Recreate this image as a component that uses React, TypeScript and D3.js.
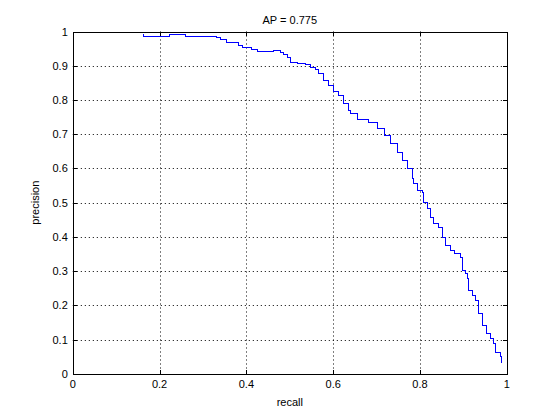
import React, { useEffect, useRef } from "react";
import * as d3 from "d3";

const recall = [
  0.162, 0.162, 0.222, 0.259, 0.331, 0.339, 0.352, 0.38, 0.389, 0.41, 0.424,
  0.462, 0.477, 0.484, 0.494, 0.5, 0.516, 0.535, 0.547, 0.558, 0.565, 0.576,
  0.588, 0.599, 0.611, 0.623, 0.633, 0.639, 0.654, 0.68, 0.7, 0.716, 0.731,
  0.746, 0.758, 0.769, 0.781, 0.784, 0.792, 0.804, 0.808, 0.815, 0.823, 0.831,
  0.842, 0.85, 0.858, 0.869, 0.878, 0.892, 0.896, 0.904, 0.909, 0.911, 0.919,
  0.927, 0.934, 0.942, 0.953, 0.961, 0.969, 0.973, 0.984, 0.987,
];
const precision = [
  0.995, 0.988, 0.993, 0.986, 0.983, 0.978, 0.968, 0.96, 0.955, 0.949, 0.943,
  0.946, 0.941, 0.933, 0.926, 0.912, 0.907, 0.905, 0.897, 0.89, 0.878, 0.858,
  0.844, 0.827, 0.815, 0.79, 0.771, 0.761, 0.744, 0.735, 0.717, 0.698, 0.673,
  0.649, 0.625, 0.6, 0.571, 0.557, 0.537, 0.532, 0.503, 0.483, 0.459, 0.44,
  0.43, 0.4, 0.376, 0.362, 0.352, 0.342, 0.303, 0.294, 0.279, 0.245, 0.23,
  0.216, 0.177, 0.143, 0.118, 0.104, 0.089, 0.065, 0.052, 0.035,
];
const xTicks = [0, 0.2, 0.4, 0.6, 0.8, 1];
const yTicks = [0, 0.1, 0.2, 0.3, 0.4, 0.5, 0.6, 0.7, 0.8, 0.9, 1];
const title = "AP = 0.775";

const W = 560;
const H = 420;
const FONT = "'Liberation Sans', Arial, Helvetica, sans-serif";

export default function App() {
  const ref = useRef<SVGSVGElement | null>(null);

  useEffect(() => {
    const svg = d3.select(ref.current);
    svg.selectAll("*").remove();

    const left = 72.8;
    const right = 506.8;
    const top = 31.5;
    const bottom = 373.8;

    const x = d3.scaleLinear().domain([0, 1]).range([left, right]);
    const y = d3.scaleLinear().domain([0, 1]).range([bottom, top]);

    svg.append("rect").attr("width", W).attr("height", H).attr("fill", "white");

    // dotted grid
    const grid = svg.append("g").attr("stroke", "black").attr("stroke-width", 1)
      .attr("stroke-dasharray", "1,3");
    grid.selectAll("line.gx")
      .data(xTicks.slice(1, -1))
      .join("line")
      .attr("x1", (d) => Math.round(x(d)) + 0.5)
      .attr("x2", (d) => Math.round(x(d)) + 0.5)
      .attr("y1", top)
      .attr("y2", bottom);
    grid.selectAll("line.gy")
      .data(yTicks.slice(1, -1))
      .join("line")
      .attr("class", "gy")
      .attr("y1", (d) => Math.round(y(d)) + 0.5)
      .attr("y2", (d) => Math.round(y(d)) + 0.5)
      .attr("x1", left)
      .attr("x2", right);

    // curve, staircase like the PR curve
    const pts = recall.map((r, i) => [r, precision[i]] as [number, number]);
    const line = d3.line<[number, number]>()
      .x((d) => Math.round(x(d[0])) + 0.5)
      .y((d) => Math.round(y(d[1])) + 0.5)
      .curve(d3.curveStepAfter);
    svg.append("path")
      .datum(pts)
      .attr("d", line)
      .attr("fill", "none")
      .attr("stroke", "#0000ff")
      .attr("stroke-width", 1)
      .attr("shape-rendering", "crispEdges");

    // axes (MATLAB-like inward ticks on all sides)
    const tick = 4;
    const ax = svg.append("g").attr("stroke", "black").attr("stroke-width", 1)
      .attr("shape-rendering", "crispEdges");
    ax.append("rect")
      .attr("x", Math.round(left) + 0.5)
      .attr("y", Math.round(top) + 0.5)
      .attr("width", Math.round(right) - Math.round(left))
      .attr("height", Math.round(bottom) - Math.round(top))
      .attr("fill", "none");
    xTicks.forEach((t) => {
      const px = Math.round(x(t)) + 0.5;
      ax.append("line").attr("x1", px).attr("x2", px)
        .attr("y1", bottom).attr("y2", bottom - tick);
      ax.append("line").attr("x1", px).attr("x2", px)
        .attr("y1", top).attr("y2", top + tick);
    });
    yTicks.forEach((t) => {
      const py = Math.round(y(t)) + 0.5;
      ax.append("line").attr("y1", py).attr("y2", py)
        .attr("x1", left).attr("x2", left + tick);
      ax.append("line").attr("y1", py).attr("y2", py)
        .attr("x1", right).attr("x2", right - tick);
    });

    const txt = svg.append("g").attr("font-family", FONT).attr("font-size", 11)
      .attr("fill", "black");
    txt.selectAll("text.xt")
      .data(xTicks)
      .join("text")
      .attr("class", "xt")
      .attr("x", (d) => x(d))
      .attr("y", bottom + 14)
      .attr("text-anchor", "middle")
      .text((d) => d3.format("~g")(d));
    txt.selectAll("text.yt")
      .data(yTicks)
      .join("text")
      .attr("class", "yt")
      .attr("x", left - 5)
      .attr("y", (d) => y(d) + 4)
      .attr("text-anchor", "end")
      .text((d) => d3.format("~g")(d));

    txt.append("text")
      .attr("x", (left + right) / 2)
      .attr("y", top - 8)
      .attr("text-anchor", "middle")
      .text(title);
    txt.append("text")
      .attr("x", (left + right) / 2)
      .attr("y", bottom + 32)
      .attr("text-anchor", "middle")
      .text("recall");
    txt.append("text")
      .attr("transform", `translate(${left - 34},${(top + bottom) / 2}) rotate(-90)`)
      .attr("text-anchor", "middle")
      .text("precision");
  }, []);

  return (
    <svg
      ref={ref}
      width={W}
      height={H}
      style={{ position: "absolute", left: 0, top: 0, display: "block" }}
    />
  );
}
